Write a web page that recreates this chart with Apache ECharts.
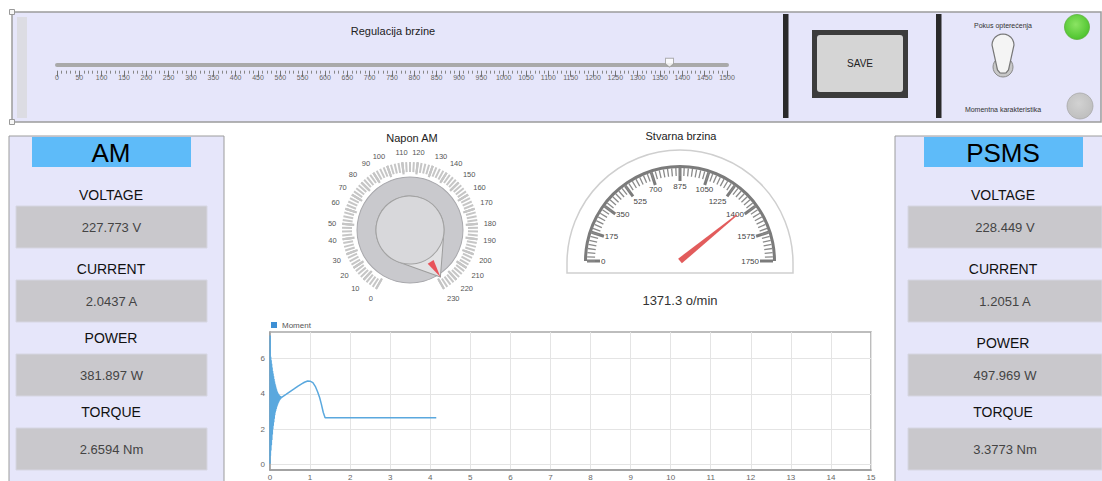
<!DOCTYPE html>
<html><head><meta charset="utf-8">
<script src="https://cdn.jsdelivr.net/npm/echarts@6/dist/echarts.min.js"></script>
<style>html,body{margin:0;padding:0;background:#fff;}#c{width:1102px;height:481px;}</style>
</head><body><div id="c"></div>
<script>
// ---------- data ----------
const sliderTitle = 'Regulacija brzine';
const sliderRange = [0, 1500];
const sliderStep = 50;
const sliderValue = 1371.3;

const naponTitle = 'Napon AM';
const naponRange = [0, 230];
const naponStep = 10;
const naponValue = 227.773;

const speedTitle = 'Stvarna brzina';
const speedRange = [0, 1750];
const speedStep = 175;
const speedValue = 1371.3;
const speedUnit = 'o/min';

const panelNames = ['AM', 'PSMS'];
const quantityLabels = ['VOLTAGE', 'CURRENT', 'POWER', 'TORQUE'];
const quantityUnits = ['V', 'A', 'W', 'Nm'];
const amValues = [227.773, 2.0437, 381.897, 2.6594];
const psmsValues = [228.449, 1.2051, 497.969, 3.3773];

const buttonTexts = ['SAVE', 'Pokus opterećenja', 'Momentna karakteristika'];

const momentName = 'Moment';
const momentXRange = [0, 15];
const momentYTicks = [0, 2, 4, 6];
const momentTime = [0, 0.004, 0.010, 0.016, 0.022, 0.028, 0.034, 0.040, 0.046, 0.052, 0.058, 0.064, 0.070, 0.076, 0.082, 0.088, 0.094, 0.100, 0.106, 0.112, 0.118, 0.124, 0.130, 0.136, 0.142, 0.148, 0.154, 0.160, 0.166, 0.172, 0.178, 0.184, 0.190, 0.196, 0.202, 0.208, 0.214, 0.220, 0.226, 0.232, 0.238, 0.244, 0.250, 0.256, 0.262, 0.268, 0.275, 0.30, 0.40, 0.50, 0.60, 0.70, 0.80, 0.86, 0.94, 1.00, 1.07, 1.13, 1.19, 1.24, 1.28, 1.33, 1.375, 4.15];
const momentValue = [0.05, 7.3, 0.5, 6.1, 0.8, 5.9, 1.1, 5.7, 1.4, 5.5, 1.7, 5.3, 2.0, 5.15, 2.2, 5.0, 2.4, 4.85, 2.6, 4.7, 2.8, 4.58, 2.95, 4.47, 3.05, 4.36, 3.15, 4.26, 3.25, 4.18, 3.33, 4.11, 3.4, 4.05, 3.47, 4.0, 3.53, 3.96, 3.59, 3.93, 3.64, 3.9, 3.68, 3.88, 3.72, 3.86, 3.78, 3.82, 3.97, 4.13, 4.28, 4.44, 4.58, 4.66, 4.73, 4.72, 4.64, 4.43, 4.11, 3.78, 3.44, 2.95, 2.66, 2.66];

// ---------- layout / style ----------
const FONT = '"Liberation Sans", Arial, sans-serif';
const LAV = '#e6e6fa';
const knobCenter = [410, 230];
const speedCenter = [680, 261];

function rect(x, y, w, h, fill, stroke, lw, r, z) {
  return { type: 'rect', silent: true, z: z == null ? -1 : z,
    shape: { x: x, y: y, width: w, height: h, r: r || 0 },
    style: { fill: fill, stroke: stroke || null, lineWidth: lw || 0 } };
}
function circle(cx, cy, r, fill, stroke, lw, z) {
  return { type: 'circle', silent: true, z: z == null ? 1 : z,
    shape: { cx: cx, cy: cy, r: r },
    style: { fill: fill, stroke: stroke || null, lineWidth: lw || 0 } };
}
function text(x, y, t, size, color, z) {
  return { type: 'text', silent: true, z: z == null ? 5 : z, x: x, y: y,
    style: { text: t, fill: color, font: size + 'px ' + FONT,
      align: 'center', textAlign: 'center', verticalAlign: 'middle', textVerticalAlign: 'middle' } };
}

const graphics = [];
// top panel
graphics.push(rect(12, 12, 1089, 110, LAV, '#9c9c9c', 1.5, 0, -2));
graphics.push(rect(9.5, 9.5, 5, 5, '#f6f6f6', '#999', 1, 0, 1));
graphics.push(rect(9.5, 119.5, 5, 5, '#f6f6f6', '#999', 1, 0, 1));
graphics.push(rect(17, 17, 10, 101, '#dcdce3'));
graphics.push(text(393, 31, sliderTitle, 11, '#222'));
graphics.push(rect(783, 14, 5.5, 104, '#2a2a2a'));
graphics.push(rect(936, 14, 5.5, 104, '#2a2a2a'));
graphics.push(rect(812, 30, 96, 68, '#3c3c3c'));
graphics.push(rect(817, 35, 86, 57, '#d5d5d5', null, 0, 3));
graphics.push(text(860, 63, buttonTexts[0], 10, '#222'));
graphics.push(text(1003, 25, buttonTexts[1], 7, '#333'));
graphics.push(text(1003, 109, buttonTexts[2], 7, '#333'));
// toggle switch
graphics.push(circle(1003, 67, 10, '#c8c8c8', '#8a8a8a', 1));
graphics.push(circle(1003, 67, 6.5, '#a9a9a9', null, 0));
(function () {
  const pts = [];
  for (let k = 0; k <= 12; k++) {
    const a = Math.PI + Math.PI * k / 12;
    pts.push([1003 + 11 * Math.cos(a), 45 + 11 * Math.sin(a)]);
  }
  pts.push([1008.5, 70], [1006, 73], [1000, 73], [997.5, 70]);
  graphics.push({ type: 'polygon', silent: true, z: 2, shape: { points: pts },
    style: { fill: '#f4f4f4', stroke: '#777', lineWidth: 1.2 } });
})();
// indicator lamps
graphics.push(circle(1077, 27, 12.5, { type: 'radial', x: 0.45, y: 0.4, r: 0.65,
  colorStops: [{ offset: 0, color: '#8be463' }, { offset: 1, color: '#49c12a' }] }, '#5cae3c', 0.8));
graphics.push(circle(1080, 106, 13, { type: 'radial', x: 0.45, y: 0.4, r: 0.65,
  colorStops: [{ offset: 0, color: '#d2d2d2' }, { offset: 1, color: '#bdbdbd' }] }, '#a8a8a8', 0.8));

// side panels
function sidePanel(px, pw, hx, hw, tx, bx, bw, name, values, labelYs) {
  graphics.push(rect(px, 136, pw, 350, LAV, '#9c9c9c', 1, 0, -2));
  graphics.push(rect(hx, 137, hw, 30, '#5ebbf9'));
  graphics.push(text(tx, 152.5, name, 26, '#000'));
  const boxTops = [206, 280, 354, 428];
  for (let i = 0; i < quantityLabels.length; i++) {
    graphics.push(text(tx, labelYs[i], quantityLabels[i], 14, '#111'));
    graphics.push(rect(bx, boxTops[i], bw, 42, '#c9c8cc', '#d6d6e2', 1));
    graphics.push(text(bx + bw / 2, boxTops[i] + 21.5, values[i] + ' ' + quantityUnits[i], 13, '#444'));
  }
}
sidePanel(9, 215, 32, 159, 111, 16, 191, panelNames[0], amValues, [195, 269, 338, 412]);
sidePanel(895, 210, 924, 159, 1003, 908, 194, panelNames[1], psmsValues, [195, 269, 343, 412]);

// gauge titles
graphics.push(text(412, 138, naponTitle, 11, '#222'));
graphics.push(text(681, 136, speedTitle, 11, '#222'));
// speedometer frame (half disc + base)
(function () {
  const cx = 680, cy = 263, r = 113, h = 10;
  graphics.push({ type: 'sector', silent: true, z: -1,
    shape: { cx: cx, cy: cy, r: r, r0: 0, startAngle: Math.PI, endAngle: 2 * Math.PI },
    style: { fill: '#fff', stroke: null } });
  graphics.push({ type: 'rect', silent: true, z: -1, shape: { x: cx - r, y: cy - 0.5, width: 2 * r, height: h + 0.5 },
    style: { fill: '#fff', stroke: null } });
  graphics.push({ type: 'arc', silent: true, z: -1,
    shape: { cx: cx, cy: cy, r: r, startAngle: Math.PI, endAngle: 2 * Math.PI },
    style: { fill: null, stroke: '#cfcfcf', lineWidth: 1.5 } });
  graphics.push({ type: 'polyline', silent: true, z: -1,
    shape: { points: [[cx - r, cy], [cx - r, cy + h], [cx + r, cy + h], [cx + r, cy]] },
    style: { fill: null, stroke: '#cfcfcf', lineWidth: 1.5 } });
})();

// ---------- gauges ----------
const off = { axisLine: { show: false, lineStyle: { width: 0 } }, splitLine: { show: false }, axisTick: { show: false },
  axisLabel: { show: false }, anchor: { show: false }, title: { show: false }, detail: { show: false } };
function gaugeBase(extra) { return Object.assign({ type: 'gauge', silent: true, animation: false }, off, extra); }

const teardrop = 'path://M34 0 L61 35.4 A34 34 0 1 1 7 35.4 Z';

const series = [
  // knob disc
  gaugeBase({ center: knobCenter, radius: 53, startAngle: 90, endAngle: -270, min: 0, max: 1,
    axisLine: { show: true, lineStyle: { width: 53, color: [[1, '#c9c9cd']] } }, pointer: { show: false }, data: [{ value: 0 }] }),
  gaugeBase({ center: knobCenter, radius: 53.5, startAngle: 90, endAngle: -270, min: 0, max: 1,
    axisLine: { show: true, lineStyle: { width: 1, color: [[1, '#a8a8ac']] } }, pointer: { show: false }, data: [{ value: 0 }] }),
  // knob scale + cone
  gaugeBase({ center: knobCenter, radius: 68, startAngle: 240, endAngle: -60,
    min: naponRange[0], max: naponRange[1], splitNumber: (naponRange[1] - naponRange[0]) / naponStep,
    splitLine: { show: true, distance: 0, length: 12, lineStyle: { width: 2.2, color: '#c3c3c3' } },
    axisTick: { show: true, distance: 0, splitNumber: 4, length: 10, lineStyle: { width: 2, color: '#c6c6c6' } },
    pointer: { show: true, icon: teardrop, width: 68, length: 90, offsetCenter: [0, 34], keepAspect: false,
      itemStyle: { color: '#e2e2e4', borderColor: '#9d9d9d', borderWidth: 1 } },
    data: [{ value: naponValue }] }),
  // knob top
  gaugeBase({ center: knobCenter, radius: 68, startAngle: 240, endAngle: -60, min: naponRange[0], max: naponRange[1],
    pointer: { show: true, icon: 'circle', width: 68, length: 68, offsetCenter: [0, 34],
      itemStyle: { color: '#d8d8db', borderColor: '#a3a3a3', borderWidth: 1 } },
    data: [{ value: naponValue }] }),
  // knob red mark
  gaugeBase({ center: knobCenter, radius: 68, startAngle: 240, endAngle: -60, min: naponRange[0], max: naponRange[1],
    pointer: { show: true, icon: 'triangle', width: 7, length: 18, offsetCenter: [0, -38], keepAspect: false,
      itemStyle: { color: '#e8535a' } },
    data: [{ value: naponValue }] }),
  // speedometer
  gaugeBase({ center: speedCenter, radius: 96, startAngle: 180, endAngle: 0,
    min: speedRange[0], max: speedRange[1], splitNumber: (speedRange[1] - speedRange[0]) / speedStep,
    axisLine: { show: true, lineStyle: { width: 3, color: [[1, '#7b7b7b']] } },
    splitLine: { show: true, distance: 0, length: 13, lineStyle: { width: 3, color: '#7b7b7b' } },
    axisTick: { show: true, distance: 0, splitNumber: 7, length: 8, lineStyle: { width: 1.3, color: '#8a8a8a' } },
    axisLabel: { show: true, distance: 4, fontSize: 8, color: '#444', fontFamily: FONT },
    pointer: { show: true, icon: 'path://M4 0 L6 0 L10 100 L0 100 Z', width: 6, length: 73, offsetCenter: [0, 0], keepAspect: false,
      itemStyle: { color: '#e25c5c' } },
    detail: { show: true, offsetCenter: [0, 39], fontSize: 13, fontWeight: 'normal', color: '#333', fontFamily: FONT,
      formatter: function (v) { return v + ' ' + speedUnit; } },
    data: [{ value: speedValue }] }),
  // moment line
  { type: 'line', name: momentName, xAxisIndex: 0, yAxisIndex: 0, animation: false,
    data: momentTime.map(function (t, i) { return [t, momentValue[i]]; }),
    showSymbol: false, lineStyle: { width: 1.5, color: '#5aa8de' }, itemStyle: { color: '#3d8fd4' } },
  // slider handle
  { type: 'scatter', xAxisIndex: 1, yAxisIndex: 1, animation: false, silent: true, z: 5,
    data: [[sliderValue, 0]], symbol: 'path://M0 0 L10 0 L10 7 L5 11 L0 7 Z', symbolSize: [8, 9], symbolOffset: [0, -2],
    itemStyle: { color: '#ffffff', borderColor: '#999', borderWidth: 1 } }
];

const option = {
  animation: false,
  backgroundColor: '#ffffff',
  textStyle: { fontFamily: FONT },
  graphic: { elements: graphics },
  legend: { data: [momentName], left: 266, top: 316, icon: 'rect', itemWidth: 6, itemHeight: 6, itemGap: 5,
    textStyle: { fontSize: 8, color: '#555', fontFamily: FONT } },
  polar: [{ center: knobCenter, radius: 68 }],
  angleAxis: [{ polarIndex: 0, type: 'value', min: naponRange[0], max: naponRange[0] + (naponRange[1] - naponRange[0]) * 360 / 300,
    startAngle: 240, clockwise: true, interval: naponStep,
    axisLine: { show: false }, axisTick: { show: false }, splitLine: { show: false },
    axisLabel: { margin: 6, fontSize: 7.5, color: '#555', fontFamily: FONT,
      formatter: function (v) { return v <= naponRange[1] ? String(v) : ''; } } }],
  radiusAxis: [{ polarIndex: 0, show: false, min: 0, max: 1 }],
  grid: [
    { left: 270, top: 332, width: 601, bottom: 9, show: true, borderColor: '#a8a8a8', borderWidth: 1.5 },
    { left: 57, width: 670, top: 40, height: 24.7 }
  ],
  xAxis: [
    { gridIndex: 0, type: 'value', min: momentXRange[0], max: momentXRange[1], interval: 1,
      axisLine: { onZero: false, lineStyle: { color: '#9a9a9a', width: 1.5 } }, axisTick: { show: false },
      axisLabel: { fontSize: 8, color: '#666', margin: 3 }, splitLine: { show: true, lineStyle: { color: '#e4e4e4' } } },
    { gridIndex: 1, type: 'value', position: 'bottom', min: sliderRange[0], max: sliderRange[1],
      axisLine: { show: true, onZero: false, lineStyle: { color: '#a9a9a9', width: 4 } }, axisTick: { show: false },
      axisLabel: { show: false }, splitLine: { show: false } },
    { gridIndex: 1, type: 'value', position: 'bottom', offset: 6, min: sliderRange[0], max: sliderRange[1], interval: sliderStep,
      axisLine: { show: false, onZero: false }, axisTick: { show: true, length: 6, lineStyle: { color: '#777' } },
      minorTick: { show: true, splitNumber: 5, length: 3, lineStyle: { color: '#888' } },
      axisLabel: { fontSize: 7, color: '#666', margin: 3, formatter: function (v) { return String(v); } },
      splitLine: { show: false } }
  ],
  yAxis: [
    { gridIndex: 0, type: 'value', min: -0.3, max: 7.5,
      axisLine: { show: true, onZero: false, lineStyle: { color: '#9a9a9a', width: 1.5 } },
      axisTick: { show: false, customValues: momentYTicks },
      axisLabel: { customValues: momentYTicks, fontSize: 8, color: '#666', margin: 5 },
      splitLine: { show: true, lineStyle: { color: '#e4e4e4' } } },
    { gridIndex: 1, type: 'value', min: 0, max: 1, show: false }
  ],
  series: series
};

const chart = echarts.init(document.getElementById('c'), null, { renderer: 'svg', width: 1102, height: 481 });
chart.setOption(option);
</script>
</body></html>
